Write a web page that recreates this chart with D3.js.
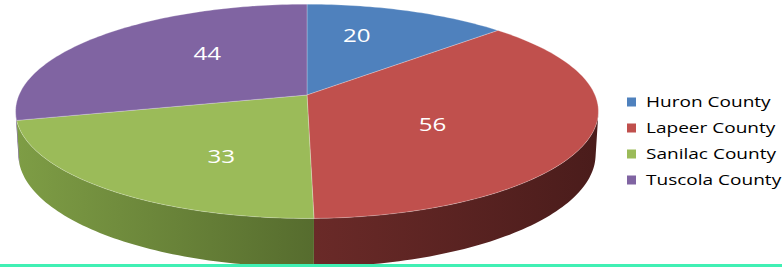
<!DOCTYPE html>
<html>
<head>
<meta charset="utf-8">
<script src="https://cdn.jsdelivr.net/npm/d3@7"></script>
<style>
    body { margin: 0; background: #fff; overflow: hidden; }
    svg { display: block; }
    .pieLabel { font-family: "Open Sans", sans-serif; font-size: 19px; fill: #fff; }
    .legend-label { font-family: "Open Sans", sans-serif; font-size: 15px; fill: #000; }
</style>
</head>
<body>
<svg id="chart" width="782" height="267"></svg>
<script>
"use strict";

var counties = ['Huron County', 'Lapeer County', 'Sanilac County', 'Tuscola County'];
var counts = [20, 56, 33, 44];
var topColors = ['#4f81bd', '#c0504d', '#9bbb59', '#8064a2'];
var wallColors = [
    ['#3b6190', '#2a4668'],
    ['#6a2a28', '#4a1c1b'],
    ['#7e9d45', '#566c2e'],
    ['#614b7d', '#463759']
];

var width = 782, height = 267;

// 3d view of the pie: centre of the top face, radius, thickness, tilt and camera distance
var view = {
    cx: 307,
    cy: 95,
    radius: 288,
    depth: 46,
    tilt: 21.3 * Math.PI / 180,
    camera: 1760
};

var textStretch = 1.27;

var svg = d3.select('#chart');

var data = counties.map(function(name, i) {
    return { name: name, value: counts[i], top: topColors[i], wall: wallColors[i] };
});

var arcs = d3.pie()
    .sort(null)
    .value(function(d) { return d.value; })(data);

// angle 0 at twelve o'clock (far side), clockwise, like d3.pie
function project(angle, r, lift) {
    var x = r * Math.sin(angle);
    var z = -r * Math.cos(angle);
    var v = z * Math.sin(view.tilt) - lift * Math.cos(view.tilt);
    var d = z * Math.cos(view.tilt) + lift * Math.sin(view.tilt);
    var s = view.camera / (view.camera - d);
    return [view.cx + s * x, view.cy + s * v];
}

function arcPoints(a0, a1, r, lift) {
    var n = Math.max(2, Math.ceil(Math.abs(a1 - a0) / 0.02));
    return d3.range(n + 1).map(function(i) {
        return project(a0 + (a1 - a0) * i / n, r, lift);
    });
}

var line = d3.line();

var defs = svg.append('defs');

// the wall is seen between the two tangent points from the camera
var silhouette = Math.acos(-view.radius / (view.camera * Math.cos(view.tilt)));

var wallGroup = svg.append('g').attr('class', 'pie3d-walls');

arcs.forEach(function(a, i) {
    var a0 = Math.max(a.startAngle, silhouette);
    var a1 = Math.min(a.endAngle, Math.PI * 2 - silhouette);
    if (a1 <= a0) return;

    var topEdge = arcPoints(a0, a1, view.radius, 0);
    var bottomEdge = arcPoints(a1, a0, view.radius, -view.depth);
    var pts = topEdge.concat(bottomEdge);
    var xs = pts.map(function(p) { return p[0]; });

    var gradId = 'wall-' + i;
    var grad = defs.append('linearGradient')
        .attr('id', gradId)
        .attr('gradientUnits', 'userSpaceOnUse')
        .attr('x1', d3.min(xs)).attr('x2', d3.max(xs))
        .attr('y1', 0).attr('y2', 0);
    // walls darken towards the right
    grad.append('stop').attr('offset', 0).attr('stop-color', a.data.wall[0]);
    grad.append('stop').attr('offset', 1).attr('stop-color', a.data.wall[1]);

    wallGroup.append('path')
        .attr('d', line(pts) + 'Z')
        .attr('fill', 'url(#' + gradId + ')');
});

// top faces
var topGroup = svg.append('g').attr('class', 'pie3d-top');

topGroup.selectAll('path')
    .data(arcs)
    .enter()
    .append('path')
    .attr('d', function(a) {
        var pts = [project(0, 0, 0)].concat(arcPoints(a.startAngle, a.endAngle, view.radius, 0));
        return line(pts) + 'Z';
    })
    .attr('fill', function(a) { return a.data.top; })
    .attr('stroke', 'rgba(255,255,255,0.25)')
    .attr('stroke-width', 1)
    .attr('stroke-linejoin', 'round');

// value labels
svg.append('g')
    .attr('class', 'pie3d-labels')
    .selectAll('text')
    .data(arcs)
    .enter()
    .append('text')
    .attr('class', 'pieLabel')
    .attr('transform', function(a) {
        var mid = (a.startAngle + a.endAngle) / 2;
        var px = project(mid, view.radius * 0.46, 0);
        var py = project(mid, view.radius * 0.68, 0);
        return 'translate(' + px[0] + ',' + py[1] + ') scale(' + textStretch + ',1)';
    })
    .attr('text-anchor', 'middle')
    .attr('dy', '0.36em')
    .text(function(a) { return a.data.value; });

// legend
var legendRow = d3.scaleBand()
    .domain(counties)
    .range([89, 193]);

var legend = svg.append('g')
    .attr('class', 'legend')
    .attr('transform', 'translate(627,0)');

var item = legend.selectAll('g')
    .data(data)
    .enter()
    .append('g')
    .attr('transform', function(d) {
        return 'translate(0,' + (legendRow(d.name) + legendRow.bandwidth() / 2) + ')';
    });

item.append('rect')
    .attr('x', 0)
    .attr('y', -4.5)
    .attr('width', 9)
    .attr('height', 9)
    .attr('fill', function(d) { return d.top; });

item.append('text')
    .attr('class', 'legend-label')
    .attr('transform', 'translate(19,0) scale(' + textStretch + ',1)')
    .attr('dy', '0.35em')
    .text(function(d) { return d.name; });

// frame line along the bottom
svg.append('rect')
    .attr('x', 0)
    .attr('y', height - 3)
    .attr('width', width)
    .attr('height', 3)
    .attr('fill', '#40f0b4');
</script>
</body>
</html>
